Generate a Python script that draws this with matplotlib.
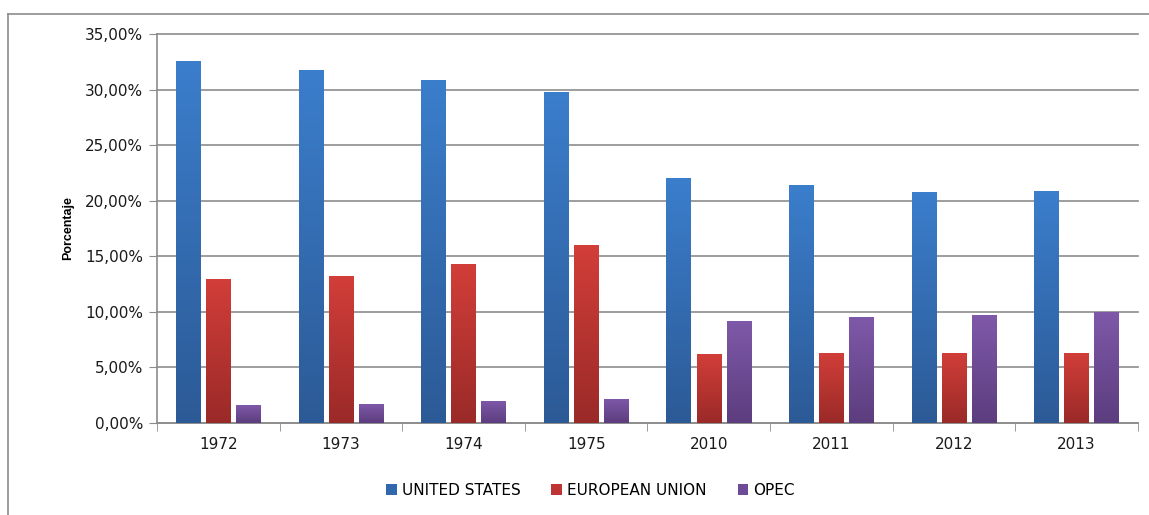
import numpy as np
import matplotlib
matplotlib.use("Agg")
import matplotlib.pyplot as plt
from matplotlib.colors import LinearSegmentedColormap
from matplotlib.patches import Patch
from matplotlib.lines import Line2D
from matplotlib.ticker import FuncFormatter

years = ["1972", "1973", "1974", "1975", "2010", "2011", "2012", "2013"]
united_states = [32.6, 31.8, 30.9, 29.8, 22.0, 21.4, 20.8, 20.9]
european_union = [13.0, 13.2, 14.3, 16.0, 6.2, 6.3, 6.3, 6.3]
opec = [1.6, 1.7, 2.0, 2.2, 9.2, 9.5, 9.7, 10.0]

series = [
    ("UNITED STATES", united_states, "#3B7ECC", "#2C5A96", "#3067AD"),
    ("EUROPEAN UNION", european_union, "#D23E39", "#9A2A28", "#BE3434"),
    ("OPEC", opec, "#7F59A9", "#5C3D7E", "#6E4B96"),
]

plt.rcParams['font.family'] = ['DejaVu Sans']
fig = plt.figure(figsize=(11.49, 5.15), dpi=100)
ax = fig.add_axes([0.1366, 0.1786, 0.8538, 0.7554])

x = np.arange(len(years))
width = 0.2
step = 0.245

grad = np.linspace(0, 1, 256).reshape(-1, 1)
handles = []
for i, (name, vals, top, bottom, solid) in enumerate(series):
    bars = ax.bar(x + (i - 1) * step, vals, width, color=solid, zorder=2)
    cmap = LinearSegmentedColormap.from_list(name, [bottom, top])
    for b in bars:
        bx, by = b.get_x(), b.get_y()
        im = ax.imshow(grad, extent=[bx, bx + b.get_width(), by, by + b.get_height()],
                       origin='lower', aspect='auto', cmap=cmap, zorder=3)
        im.set_clip_path(b)
    handles.append(Patch(facecolor=solid, label=name))

ax.set_xlim(-0.5, len(years) - 0.5)
ax.set_ylim(0, 35)
ax.set_yticks(np.arange(0, 36, 5))
ax.yaxis.set_major_formatter(FuncFormatter(lambda v, p: f"{v:.2f}%".replace(".", ",")))
ax.set_xticks(x)
ax.set_xticklabels(years)
ax.set_xticks(np.arange(-0.5, len(years), 1), minor=True)
ax.tick_params(axis='x', which='major', length=0, pad=10, labelsize=11, labelcolor='#1a1a1a')
ax.tick_params(axis='x', which='minor', length=6, color='#8c8c8c', direction='out')
ax.tick_params(axis='y', length=6, color='#8c8c8c', pad=4, labelsize=11, labelcolor='#1a1a1a')

ax.grid(axis='y', color='#8c8c8c', linewidth=1.2, zorder=0)
for gl in ax.get_ygridlines():
    gl.set_clip_on(False)
ax.set_axisbelow(True)
for s in ['top', 'right']:
    ax.spines[s].set_visible(False)
for s in ['left', 'bottom']:
    ax.spines[s].set_color('#8c8c8c')
    ax.spines[s].set_linewidth(1.2)

ax.set_ylabel("Porcentaje", family='Liberation Sans', fontweight='bold', fontsize=9, labelpad=8)

fig.legend(handles=handles, loc='center', bbox_to_anchor=(0.514, 0.048), ncol=3, frameon=False,
           fontsize=11, handlelength=0.7, handleheight=0.7, handletextpad=0.35, columnspacing=2.0)

# outer chart border
fig.add_artist(Line2D([8 / 1149, 1], [1 - 14 / 515, 1 - 14 / 515], color='#8c8c8c', lw=1.2))
fig.add_artist(Line2D([8 / 1149, 8 / 1149], [0, 1 - 14 / 515], color='#8c8c8c', lw=1.2))

fig.savefig("out.png", dpi=100)
